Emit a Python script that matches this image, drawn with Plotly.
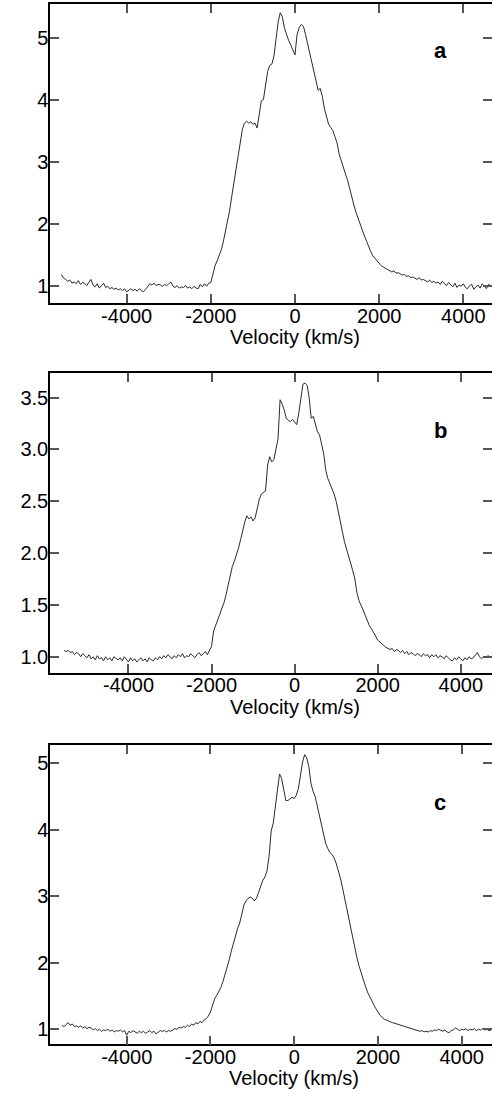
import plotly.graph_objects as go

# ---------------- data ----------------
velocity = list(range(-5550, 4701, 50))  # km/s grid, 206 points

flux_a = [
    1.18, 1.12, 1.10, 1.07, 1.09, 1.04, 1.06, 1.03, 1.08, 1.02, 1.05,
    1.04, 1.00, 1.06, 1.10, 1.01, 0.98, 1.03, 0.96, 1.00, 1.04, 0.97, 0.99, 0.95, 0.97, 0.94, 0.96, 0.93, 0.95, 0.92, 0.95,
    0.90, 0.93, 0.95, 0.92, 0.94, 0.91, 0.95, 0.92, 0.90, 0.94, 0.98, 1.03, 1.01, 1.04, 1.00, 1.02, 1.01, 0.99, 1.02, 1.00,
    1.03, 1.06, 0.99, 0.97, 1.00, 0.96, 0.98, 0.97, 1.00, 0.96, 0.98, 0.95, 0.99, 0.96, 0.95, 1.02, 0.98, 1.03, 0.99, 1.04,
    1.05, 1.20, 1.32, 1.40, 1.50, 1.58, 1.72, 1.88, 2.02, 2.22, 2.45, 2.65, 2.85, 3.08, 3.32, 3.52, 3.62, 3.65, 3.62, 3.64,
    3.60, 3.62, 3.54, 3.80, 3.98, 4.00, 4.25, 4.45, 4.55, 4.57, 4.70, 4.95, 5.25, 5.40, 5.33, 5.15, 5.03, 4.95, 4.88, 4.80,
    4.72, 5.05, 5.16, 5.21, 5.18, 5.05, 4.90, 4.75, 4.55, 4.40, 4.30, 4.15, 4.18, 4.05, 3.85, 3.70, 3.60, 3.55, 3.50, 3.40,
    3.30, 3.12, 3.00, 2.90, 2.80, 2.70, 2.55, 2.42, 2.30, 2.18, 2.08, 1.99, 1.88, 1.80, 1.72, 1.62, 1.55, 1.48, 1.44, 1.40,
    1.36, 1.32, 1.30, 1.28, 1.26, 1.25, 1.22, 1.24, 1.20, 1.21, 1.19, 1.17, 1.18, 1.15, 1.16, 1.13, 1.14, 1.12, 1.10, 1.13,
    1.09, 1.10, 1.08, 1.06, 1.09, 1.05, 1.07, 1.04, 1.06, 1.02, 1.07, 1.03, 1.00, 1.05, 1.02, 0.98, 1.04, 0.97, 1.01, 0.99,
    1.03, 0.97, 0.95, 1.00, 1.02, 0.94, 0.98, 1.01, 0.96, 1.03, 0.99, 0.95, 1.02, 1.00, 1.01,
]

flux_b = [
    1.06, 1.05, 1.06, 1.04, 1.05, 1.02, 1.04, 1.03, 1.00, 1.03, 1.01,
    0.99, 1.02, 0.98, 1.00, 0.97, 1.01, 0.98, 0.99, 0.96, 1.00, 0.97, 0.99, 0.96, 1.00, 0.98, 0.97, 0.99, 0.96, 1.00, 0.97,
    0.95, 0.99, 0.96, 0.98, 0.95, 0.97, 0.99, 0.96, 0.98, 0.95, 0.99, 0.97, 0.96, 0.99, 0.97, 1.00, 0.98, 1.01, 0.99, 1.02,
    1.00, 0.98, 1.01, 0.99, 1.02, 1.00, 1.03, 0.99, 1.01, 1.00, 1.03, 1.01, 0.99, 1.02, 1.04, 1.01, 1.03, 1.05, 1.02, 1.06,
    1.10, 1.25, 1.30, 1.35, 1.41, 1.47, 1.52, 1.60, 1.68, 1.78, 1.87, 1.92, 1.98, 2.05, 2.13, 2.22, 2.30, 2.36, 2.33, 2.35,
    2.31, 2.34, 2.45, 2.52, 2.57, 2.59, 2.60, 2.85, 2.93, 2.88, 2.90, 3.00, 3.10, 3.48, 3.44, 3.38, 3.30, 3.28, 3.27, 3.29,
    3.27, 3.24, 3.35, 3.50, 3.63, 3.64, 3.62, 3.50, 3.30, 3.32, 3.25, 3.17, 3.14, 3.05, 2.96, 2.80, 2.72, 2.67, 2.62, 2.57,
    2.50, 2.40, 2.32, 2.20, 2.11, 2.04, 1.97, 1.92, 1.83, 1.75, 1.62, 1.54, 1.50, 1.45, 1.40, 1.34, 1.30, 1.27, 1.24, 1.20,
    1.16, 1.14, 1.12, 1.10, 1.09, 1.08, 1.07, 1.08, 1.05, 1.07, 1.06, 1.04, 1.06, 1.03, 1.05, 1.02, 1.04, 1.03, 1.01, 1.03,
    1.02, 1.00, 1.03, 1.01, 1.02, 0.99, 1.02, 1.00, 1.02, 0.99, 1.01, 1.00, 0.98, 1.01, 0.99, 0.97, 0.96, 0.99, 0.97, 1.00,
    0.98, 0.96, 0.99, 0.97, 1.00, 0.98, 0.99, 1.02, 1.04, 1.00, 0.98, 1.00, 0.99, 1.01, 1.00,
]

flux_c = [
    1.06, 1.04, 1.07, 1.10, 1.06, 1.08, 1.04, 1.05, 1.03, 1.05, 1.02,
    1.04, 1.01, 1.03, 1.02, 0.99, 1.01, 0.98, 1.00, 0.97, 0.99, 0.98, 1.00, 0.97, 0.99, 0.96, 0.98, 0.97, 0.99, 0.96, 0.98,
    0.91, 0.97, 0.95, 0.98, 0.96, 0.94, 0.97, 0.95, 0.97, 0.94, 0.96, 0.98, 0.95, 0.97, 0.93, 0.96, 0.98, 0.97, 0.98, 0.96,
    0.98, 0.97, 0.99, 1.01, 1.00, 1.03, 1.02, 1.04, 1.03, 1.06, 1.04, 1.08, 1.06, 1.10, 1.08, 1.12, 1.10, 1.14, 1.16, 1.20,
    1.26, 1.38, 1.46, 1.51, 1.56, 1.63, 1.72, 1.82, 1.92, 2.05, 2.18, 2.30, 2.42, 2.52, 2.60, 2.76, 2.87, 2.93, 2.97, 2.99,
    2.97, 2.93, 2.97, 3.06, 3.16, 3.24, 3.29, 3.38, 3.60, 3.98, 4.10, 4.35, 4.65, 4.84, 4.77, 4.58, 4.44, 4.44, 4.47, 4.49,
    4.47, 4.52, 4.62, 4.85, 5.02, 5.13, 5.08, 4.95, 4.70, 4.58, 4.50, 4.36, 4.22, 4.06, 3.92, 3.80, 3.72, 3.66, 3.63, 3.58,
    3.50, 3.40, 3.28, 3.14, 2.98, 2.82, 2.66, 2.50, 2.36, 2.22, 2.07, 1.95, 1.84, 1.74, 1.65, 1.56, 1.49, 1.43, 1.37, 1.31,
    1.25, 1.21, 1.18, 1.15, 1.14, 1.12, 1.11, 1.10, 1.09, 1.08, 1.07, 1.06, 1.05, 1.05, 1.03, 1.02, 1.01, 1.00, 0.99, 0.99,
    0.97, 0.98, 0.96, 0.97, 0.96, 0.98, 0.97, 0.99, 0.98, 1.00, 0.99, 0.97, 0.99, 0.96, 0.95, 0.98, 0.99, 1.02, 1.00, 0.98,
    1.00, 0.99, 1.01, 0.98, 1.00, 0.99, 1.01, 0.98, 1.00, 0.99, 1.01, 0.99, 1.00, 0.98, 0.99,
]

panel_labels = ["a", "b", "c"]
x_title = "Velocity (km/s)"
x_tick_vals = [-4000, -2000, 0, 2000, 4000]
x_tick_text = ["-4000", "-2000", "0", "2000", "4000"]
y_tick_vals_a = [1, 2, 3, 4, 5]
y_tick_text_a = ["1", "2", "3", "4", "5"]
y_tick_vals_b = [1.0, 1.5, 2.0, 2.5, 3.0, 3.5]
y_tick_text_b = ["1.0", "1.5", "2.0", "2.5", "3.0", "3.5"]
y_tick_vals_c = [1, 2, 3, 4, 5]
y_tick_text_c = ["1", "2", "3", "4", "5"]

# ---------------- layout geometry ----------------
W, H = 492, 1095
FONT = "Arial, 'Liberation Sans', sans-serif"

panels = [
    dict(flux=flux_a, xr=[-5822, 4682], yr=[0.72, 5.54], top=4, bottom=303,
         yv=y_tick_vals_a, yt=y_tick_text_a, lab_y=50),
    dict(flux=flux_b, xr=[-5889, 4752], yr=[0.846, 3.735], top=373.3, bottom=672.7,
         yv=y_tick_vals_b, yt=y_tick_text_b, lab_y=430),
    dict(flux=flux_c, xr=[-5832, 4724], yr=[0.774, 5.275], top=745, bottom=1044.3,
         yv=y_tick_vals_c, yt=y_tick_text_c, lab_y=802),
]

fig = go.Figure()
left_px = 50
annotations = []
layout = {}

for i, p in enumerate(panels):
    n = i + 1
    xa = "x" if n == 1 else f"x{n}"
    ya = "y" if n == 1 else f"y{n}"
    yr_name = f"y{n + 3}"
    dom_y = [1 - p["bottom"] / H, 1 - p["top"] / H]

    fig.add_trace(go.Scatter(
        x=velocity, y=p["flux"], mode="lines",
        line=dict(color="#2a2a2a", width=1),
        xaxis=xa, yaxis=ya, showlegend=False, hoverinfo="skip",
    ))
    # invisible trace to host the right-side tick axis
    fig.add_trace(go.Scatter(
        x=[None], y=[None], mode="lines", xaxis=xa, yaxis=yr_name,
        showlegend=False, hoverinfo="skip",
    ))

    xkey = "xaxis" if n == 1 else f"xaxis{n}"
    ykey = "yaxis" if n == 1 else f"yaxis{n}"
    yrkey = f"yaxis{n + 3}"

    layout[xkey] = dict(
        domain=[left_px / W, 1], anchor=ya, range=p["xr"], automargin=False,
        showline=True, linecolor="black", linewidth=1.5, mirror="ticks",
        ticks="inside", ticklen=9, tickwidth=1.5, tickcolor="#555555",
        tickvals=x_tick_vals, ticktext=x_tick_text, ticklabelstandoff=-6,
        tickfont=dict(family=FONT, size=20, color="black"),
        showgrid=False, zeroline=False,
    )
    layout[ykey] = dict(
        domain=dom_y, anchor=xa, range=p["yr"], automargin=False,
        showline=True, linecolor="black", linewidth=1.5, mirror=False,
        ticks="inside", ticklen=9, tickwidth=1.5, tickcolor="#555555",
        tickvals=p["yv"], ticktext=p["yt"], ticklabelstandoff=-4,
        tickfont=dict(family=FONT, size=20, color="black"),
        showgrid=False, zeroline=False,
    )
    layout[yrkey] = dict(
        domain=dom_y, anchor=xa, overlaying=ya, side="right", range=p["yr"],
        automargin=False,
        showline=False, ticks="inside", ticklen=9, tickwidth=1.5, tickcolor="#555555",
        tickvals=p["yv"], showticklabels=False, showgrid=False, zeroline=False,
    )

    annotations.append(dict(
        text=x_title, xref=xa, x=0, yref="paper", y=1 - (p["bottom"] + 34) / H,
        xanchor="center", yanchor="middle", showarrow=False,
        font=dict(family=FONT, size=20, color="black"),
    ))
    annotations.append(dict(
        text=f"<b>{panel_labels[i]}</b>", xref="paper", x=440 / W,
        yref="paper", y=1 - p["lab_y"] / H,
        xanchor="center", yanchor="middle", showarrow=False,
        font=dict(family=FONT, size=22, color="black"),
    ))

fig.update_layout(
    width=W, height=H,
    margin=dict(l=0, r=0, t=0, b=0, autoexpand=False),
    paper_bgcolor="white", plot_bgcolor="white",
    annotations=annotations,
    showlegend=False,
    **layout,
)

fig.write_html(
    "out.html",
    config={"displayModeBar": False},
    post_script="document.body.style.margin='0';document.body.style.padding='0';",
)
